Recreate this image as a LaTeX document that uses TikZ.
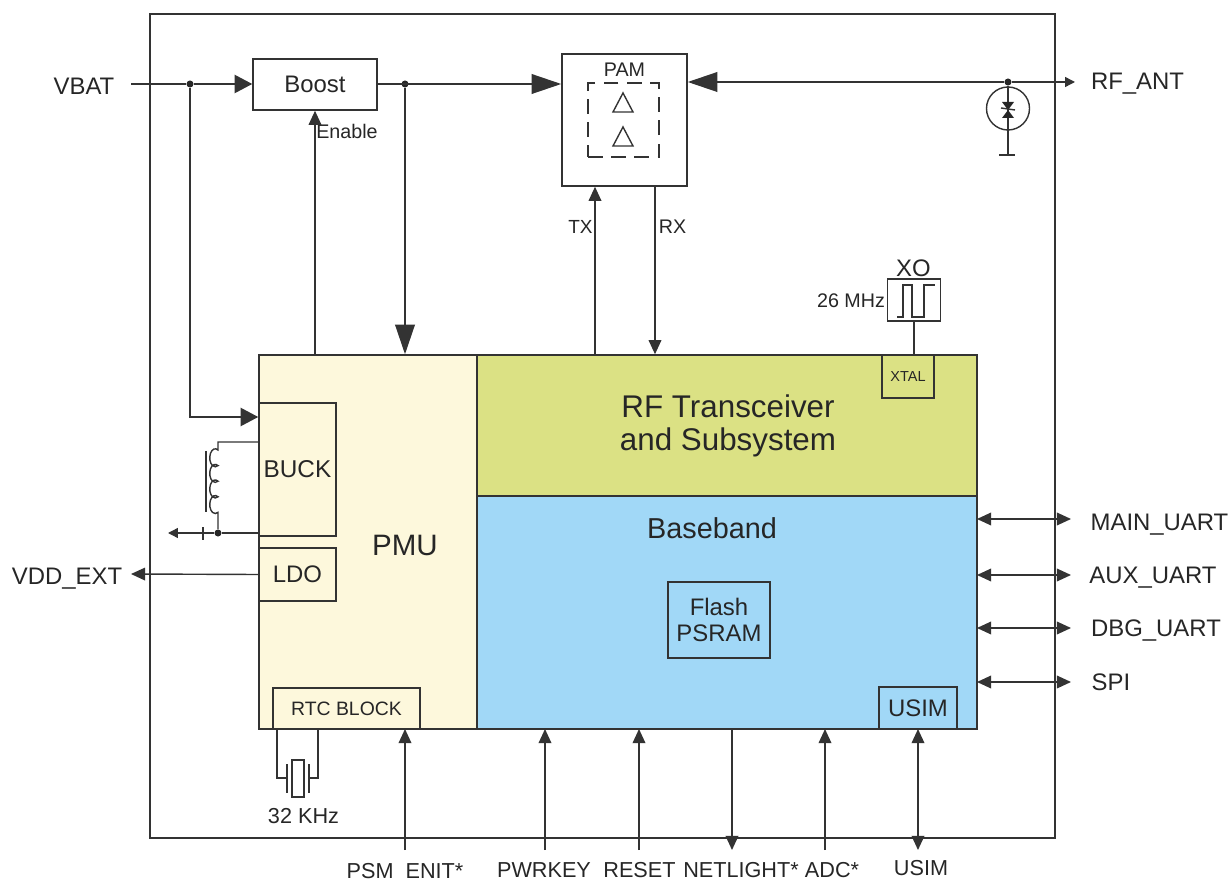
\documentclass[tikz,border=0pt]{standalone}
\usepackage{fontspec}
\setmainfont{Liberation Sans}
\usetikzlibrary{calc, arrows.meta}
\definecolor{pmucol}{HTML}{FDF8DC}
\definecolor{rfcol}{HTML}{DBE184}
\definecolor{bbcol}{HTML}{A1D8F7}
\definecolor{linecol}{HTML}{333333}
\newcommand{\fs}[1]{\fontsize{#1}{#1}\selectfont}
\tikzset{
  box/.style = {draw = linecol, line width = 1.1pt, inner sep = 0, align = center, text = black!85},
  lbl/.style = {inner sep = 0, anchor = base, text = black!85, font = \fs{17}},
  tiny/.style = {lbl, font = \fs{14}},
  pin/.style = {lbl, font = \fs{15.4}},
  wire/.style = {draw = linecol, line width = 1pt},
  small/.style = {wire, -{Triangle[length = 7pt, width = 7pt]}},
  mid/.style = {wire, -{Triangle[length = 10pt, width = 9pt]}},
  mid2/.style = {wire, -{Triangle[length = 12.5pt, width = 13pt]}},
  big/.style = {wire, -{Triangle[length = 21pt, width = 14pt]}},
  both/.style = {wire, {Triangle[length = 10pt, width = 9pt]}-{Triangle[length = 10pt, width = 9pt]}},
  dot/.style = {circle, fill = black!85, inner sep = 0, minimum size = 5pt}
}
\begin{document}
\begin{tikzpicture}[x = .025cm, y = -.025cm]
\useasboundingbox (0, 0) rectangle (1232, 879);
\node at (602.5, 426) [name=outer, box, minimum width = 905*.025cm, minimum height = 824*.025cm] {};
% blocks
\node at (368, 542) [name=pmu, box, fill = pmucol, minimum width = 218*.025cm, minimum height = 374*.025cm] {};
\node at (405, 556) [name=pmutxt, lbl, font = \fs{21}] {PMU};
\node at (727, 425.5) [name=rf, box, fill = rfcol, minimum width = 500*.025cm, minimum height = 141*.025cm, font = \fs{22.3}] {};
\node at (728, 417.5) [name=rftxt, lbl, font = \fs{22.3}] {RF Transceiver};
\node at (728, 450.5) [name=rftxt2, lbl, font = \fs{22.3}] {and Subsystem};
\node at (727, 612.5) [name=bb, box, fill = bbcol, minimum width = 500*.025cm, minimum height = 233*.025cm] {};
\node at (712, 538) [name=bbtxt, lbl, font = \fs{20.5}] {Baseband};
\node at (315, 84.5) [name=boost, box, minimum width = 124*.025cm, minimum height = 51*.025cm, font = \fs{17}] {Boost};
\node at (624.5, 120) [name=pam, box, minimum width = 125*.025cm, minimum height = 132*.025cm] {};
\node at (624.5, 77) [name=pamtxt, tiny] {PAM};
\node at (623.5, 120) [name=pa, draw = linecol, line width = 1pt, dash pattern = on 10.5pt off 6pt, minimum width = 71*.025cm, minimum height = 74*.025cm, inner sep = 0] {};
\node at (297.5, 469.5) [name=buck, box, fill = pmucol, minimum width = 77*.025cm, minimum height = 133*.025cm, font = \fs{17.3}] {BUCK};
\node at (297.5, 574.5) [name=ldo, box, fill = pmucol, minimum width = 77*.025cm, minimum height = 53*.025cm, font = \fs{17}] {LDO};
\node at (346.5, 708.5) [name=rtc, box, fill = pmucol, minimum width = 147*.025cm, minimum height = 41*.025cm, font = \fs{13.8}] {RTC BLOCK};
\node at (719, 620) [name=flash, box, fill = bbcol, minimum width = 102*.025cm, minimum height = 76*.025cm, font = \fs{17}] {Flash\\[1pt]PSRAM};
\node at (918, 708) [name=usimb, box, fill = bbcol, minimum width = 78*.025cm, minimum height = 42*.025cm, font = \fs{17}] {USIM};
\node at (908, 376.5) [name=xtal, box, fill = rfcol, minimum width = 52*.025cm, minimum height = 43*.025cm, font = \fs{10.3}] {XTAL};
\node at (914, 300) [name=xo, box, minimum width = 53*.025cm, minimum height = 42*.025cm] {};
% labels
\node at (84, 95) [name=vbat, lbl] {VBAT};
\node at (1137.5, 90) [name=rfant, lbl] {RF\_ANT};
\node at (67, 584) [name=vddext, lbl] {VDD\_EXT};
\node at (1159.5, 530) [name=mainu, lbl] {MAIN\_UART};
\node at (1153, 583) [name=auxu, lbl] {AUX\_UART};
\node at (1156, 636) [name=dbgu, lbl] {DBG\_UART};
\node at (1111, 690) [name=spi, lbl] {SPI};
\node at (347, 138.5) [name=enable, tiny] {Enable};
\node at (580.5, 234) [name=tx, tiny, font = \fs{13.5}] {TX};
\node at (672.5, 234) [name=rx, tiny] {RX};
\node at (913.5, 276.5) [name=xotxt, lbl] {XO};
\node at (851, 308) [name=mhz, tiny] {26 MHz};
\node at (303.5, 823) [name=khz, pin] {32 KHz};
\node at (405, 878) [name=psm, pin] {PSM\_ENIT*};
\node at (544, 877) [name=pwrkey, pin] {PWRKEY};
\node at (639.5, 877) [name=reset, pin] {RESET};
\node at (741, 877) [name=netlight, pin] {NETLIGHT*};
\node at (832, 877) [name=adc, pin] {ADC*};
\node at (921, 875) [name=usim, pin] {USIM};
% junctions and free ends
\node at (190, 84) [name=j1, dot] {};
\node at (405, 84) [name=j2, dot] {};
\node at (1008, 82) [name=j3, dot] {};
\node at (218, 533) [name=j4, dot] {};
\coordinate (vin) at (131, 84);
\coordinate (vout) at (1075, 82);
\coordinate (gnd) at (1008, 155);
\coordinate (bout) at (168, 533);
\coordinate (vdd) at (131, 574);
% power
\draw [wire] (vin) -- (j1);
\draw [mid2] (j1) -- (j1 -| boost.west);
\draw [big] (boost.east |- j2) -- (pam.west |- j2);
\draw [mid2] (j1) -- (190, 417) -- (buck.west |- 0, 417);
\draw [big] (j2) -- (j2 |- pmu.north);
\draw [mid] (pmu.north -| 315, 0) -- (boost.south -| 315, 0);
\draw [big] (j3) -- (j3 -| pam.east);
\draw [small] (j3) -- (vout);
% rf
\draw [mid] (rf.north -| 595, 0) -- (pam.south -| 595, 0);
\draw [mid] (pam.south -| 655, 0) -- (rf.north -| 655, 0);
\draw [wire] (xtal.north -| xo.south) -- (xo.south);
\draw [wire] (897, 317) -- (903, 317) -- (903, 285) -- (912, 285) -- (912, 317) -- (924, 317) -- (924, 285) -- (935, 285);
\draw [wire] (613, 112) -- (623, 93) -- (633, 112) -- cycle;
\draw [wire] (613, 146) -- (623, 127) -- (633, 146) -- cycle;
% tvs diode
\draw [wire] (j3) -- (gnd);
\draw [wire] (1008, 108.5) circle (21.5);
\draw [wire] (999, 155) -- (1015, 155);
\fill [black!85] (1002, 102) -- (1014, 102) -- (1008, 110) -- cycle;
\fill [black!85] (1002, 118) -- (1014, 118) -- (1008, 110) -- cycle;
\draw [wire] (1001, 108) -- (1015, 110);
% buck inductor
\draw [wire] (buck.west |- 0, 442) -- (218, 442) -- (218, 450)
  arc (300 : 60 : 5.5 and 9) arc (300 : 60 : 5.5 and 9) arc (300 : 60 : 5.5 and 9) arc (300 : 60 : 5.5 and 9) -- (j4);
\draw [wire] (206, 451) -- (206, 512);
\draw [wire] (buck.west |- j4) -- (j4);
\draw [small] (j4) -- (bout);
\draw [wire] (203, 527) -- (203, 540);
\draw [mid] (ldo.west) -- (vdd);
% crystal
\draw [wire] (277, 729) -- (277, 778) -- (287, 778);
\draw [wire] (318, 729) -- (318, 778) -- (309, 778);
\draw [wire] (287, 764) -- (287, 793);
\draw [wire] (309, 764) -- (309, 793);
\draw [wire] (292, 760) rectangle (304, 797);
% io
\foreach \y in {519, 575, 628, 682}
  \draw [both] (977, \y) -- (1071, \y);
\foreach \x in {405, 545, 639, 825}
  \draw [mid] (\x, 850) -- (\x, 729);
\draw [mid] (732, 729) -- (732, 850);
\draw [both] (918, 729) -- (918, 850);
\end{tikzpicture}
\end{document}
